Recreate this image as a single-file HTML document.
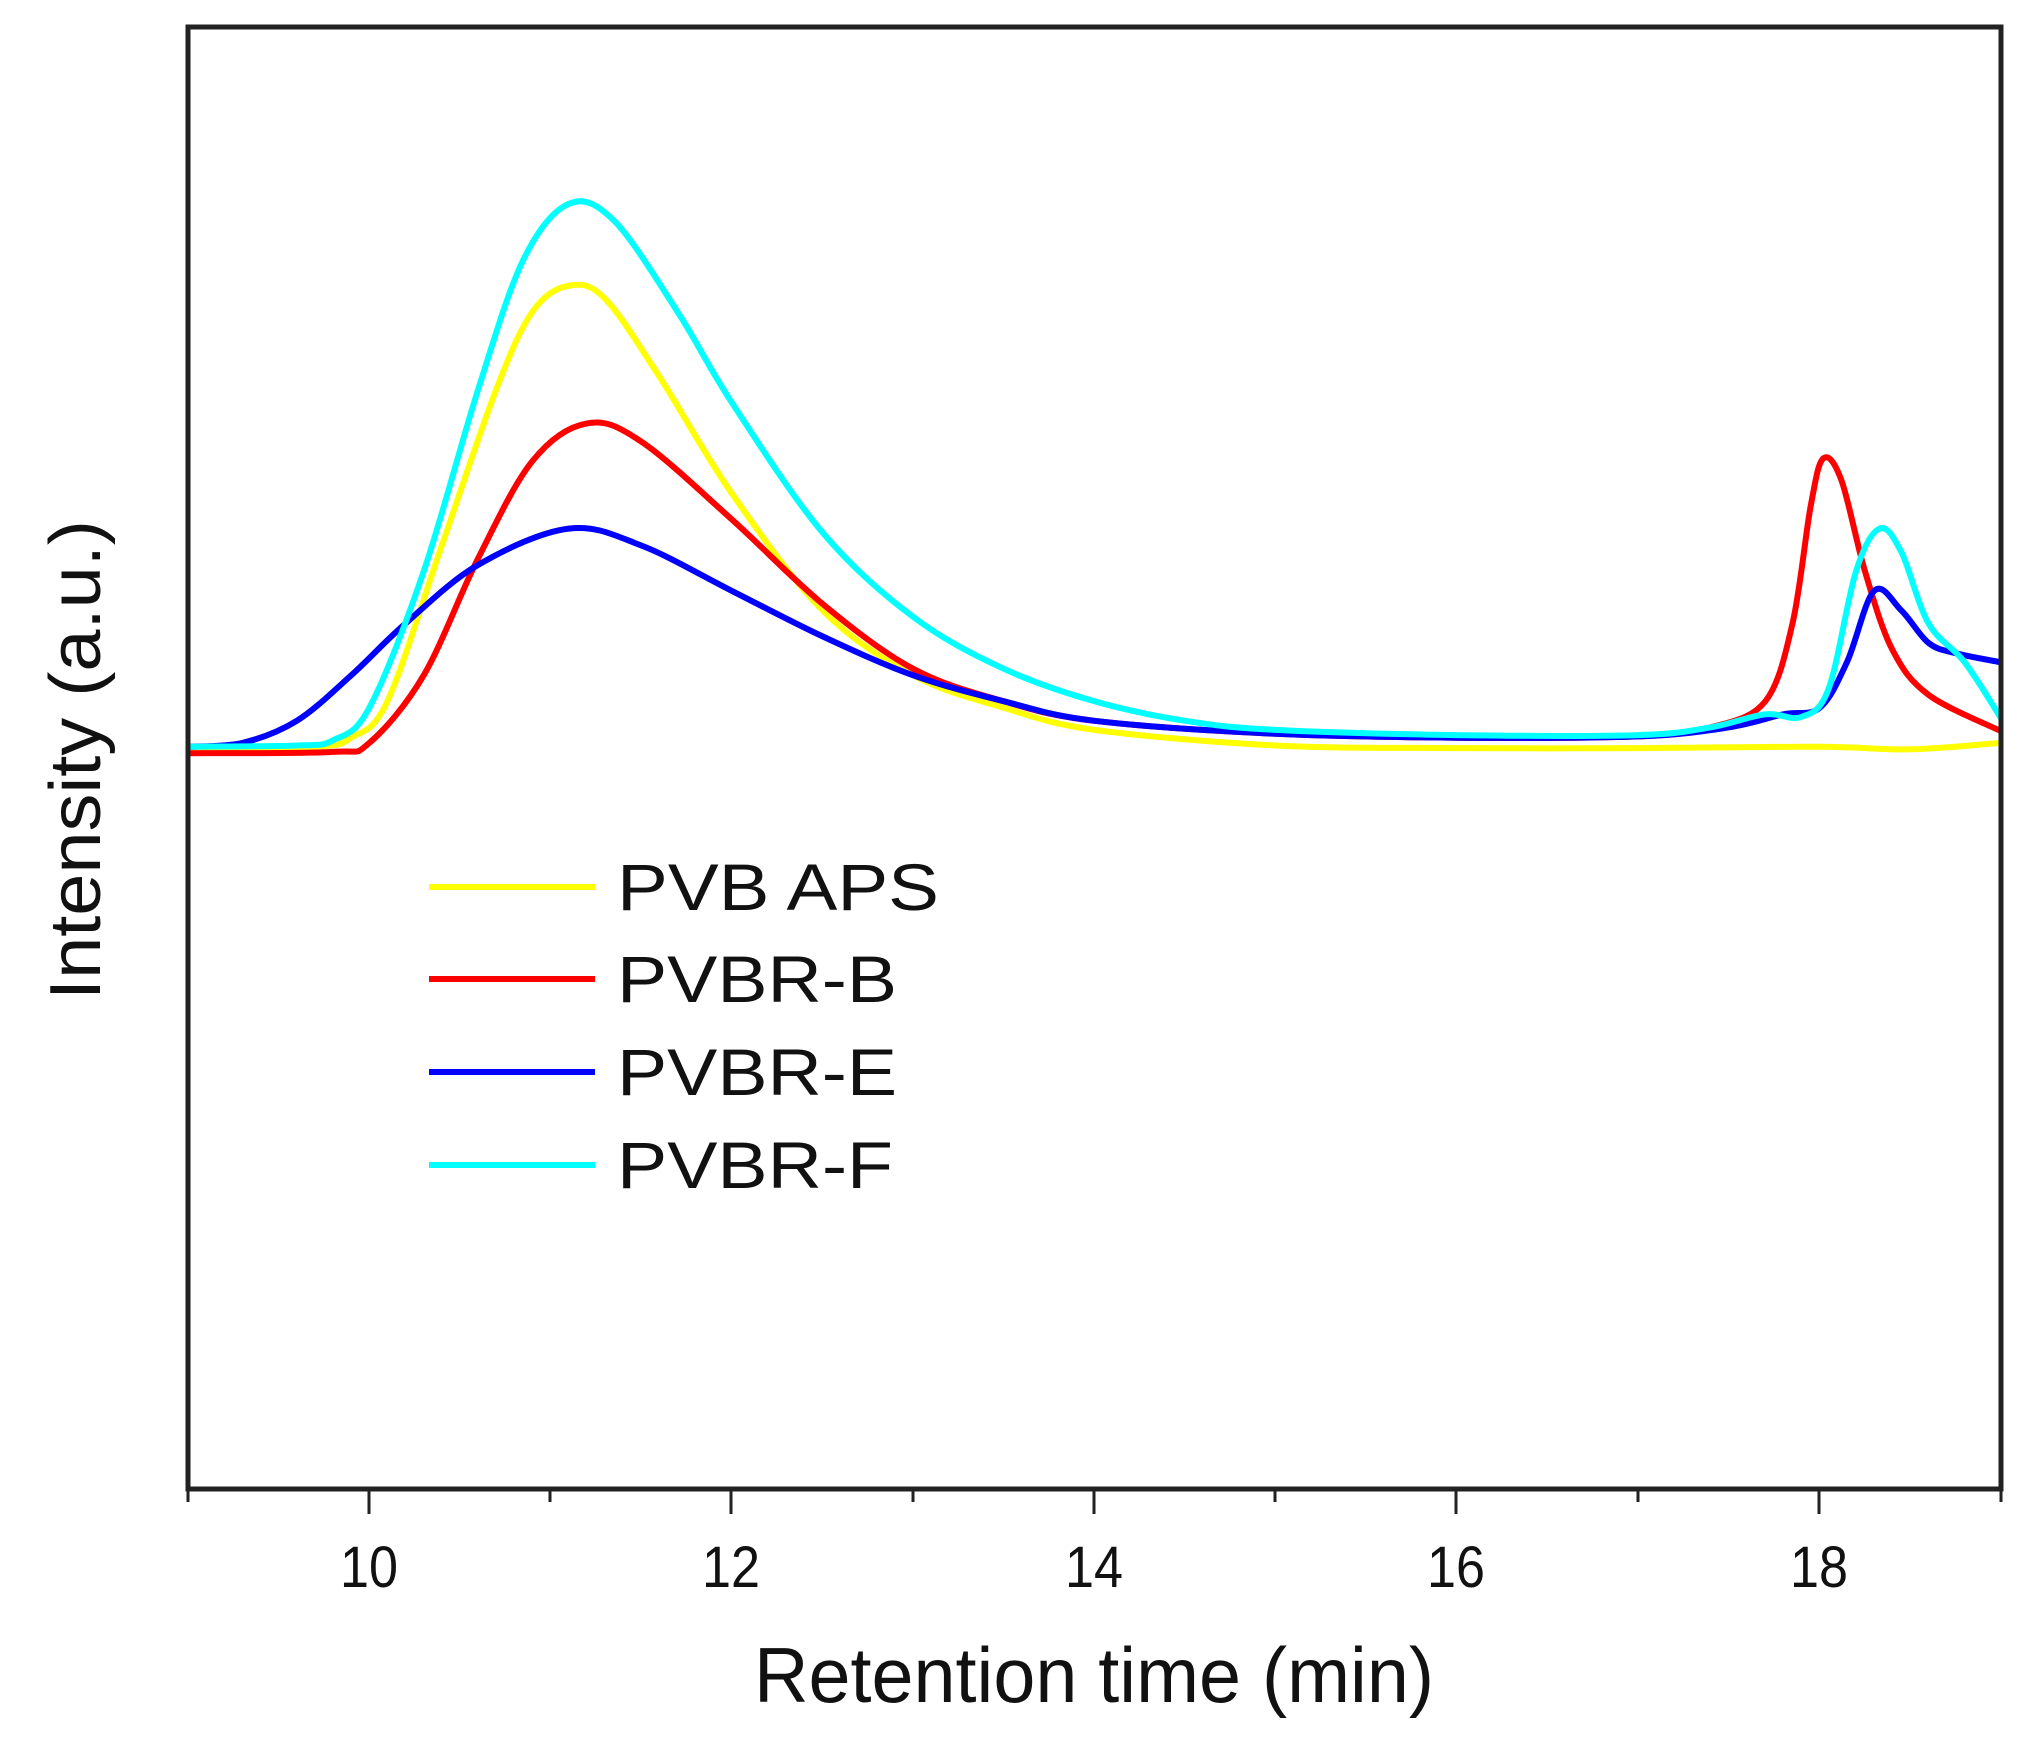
<!DOCTYPE html>
<html><head><meta charset="utf-8">
<style>
html,body{margin:0;padding:0;background:#fff;}
svg{display:block;}
text{font-family:"Liberation Sans",sans-serif;fill:#111;}
</style></head>
<body>
<svg id="s" width="2026" height="1739" viewBox="0 0 2026 1739" xmlns="http://www.w3.org/2000/svg">
<rect width="2026" height="1739" fill="#fff"/>
<g id="curves" fill="none" stroke-width="6" stroke-linejoin="round"></g>
<rect x="188" y="27" width="1813" height="1462" fill="none" stroke="#222" stroke-width="5"/>
<g stroke="#222" stroke-width="3">
<line x1="369" y1="1489" x2="369" y2="1514"/>
<line x1="731" y1="1489" x2="731" y2="1514"/>
<line x1="1094" y1="1489" x2="1094" y2="1514"/>
<line x1="1456" y1="1489" x2="1456" y2="1514"/>
<line x1="1819" y1="1489" x2="1819" y2="1514"/>
<line x1="188" y1="1489" x2="188" y2="1502"/>
<line x1="550" y1="1489" x2="550" y2="1502"/>
<line x1="913" y1="1489" x2="913" y2="1502"/>
<line x1="1275" y1="1489" x2="1275" y2="1502"/>
<line x1="1638" y1="1489" x2="1638" y2="1502"/>
<line x1="2001" y1="1489" x2="2001" y2="1502"/>
</g>
<g font-size="58" text-anchor="middle">
<text x="369" y="1587" textLength="58" lengthAdjust="spacingAndGlyphs">10</text>
<text x="731" y="1587" textLength="58" lengthAdjust="spacingAndGlyphs">12</text>
<text x="1094" y="1587" textLength="58" lengthAdjust="spacingAndGlyphs">14</text>
<text x="1456" y="1587" textLength="58" lengthAdjust="spacingAndGlyphs">16</text>
<text x="1819" y="1587" textLength="58" lengthAdjust="spacingAndGlyphs">18</text>
</g>
<text x="1094" y="1702" font-size="78" text-anchor="middle" textLength="680" lengthAdjust="spacingAndGlyphs">Retention time (min)</text>
<text transform="translate(100,760) rotate(-90)" font-size="72" text-anchor="middle" textLength="480" lengthAdjust="spacingAndGlyphs">Intensity (a.u.)</text>
<g stroke-width="6">
<line x1="429" y1="887" x2="595" y2="887" stroke="#ffff00"/>
<line x1="429" y1="979" x2="595" y2="979" stroke="#ff0000"/>
<line x1="429" y1="1072" x2="595" y2="1072" stroke="#0000ff"/>
<line x1="429" y1="1165" x2="595" y2="1165" stroke="#00ffff"/>
</g>
<g font-size="66">
<text x="617" y="910" textLength="322" lengthAdjust="spacingAndGlyphs">PVB APS</text>
<text x="617" y="1002" textLength="280" lengthAdjust="spacingAndGlyphs">PVBR-B</text>
<text x="617" y="1095" textLength="280" lengthAdjust="spacingAndGlyphs">PVBR-E</text>
<text x="617" y="1188" textLength="276" lengthAdjust="spacingAndGlyphs">PVBR-F</text>
</g>
</svg>
<script>
var series=[
["#ffff00",[[9,576],[9.7,575],[9.9,568],[10.1,540],[10.4,420],[10.7,300],[10.9,240],[11.1,220],[11.3,230],[11.6,290],[12,380],[12.5,470],[13,520],[13.5,545],[14,562],[15,574],[16,576],[17,576],[18,575],[18.5,577],[19,572]]],
["#ff0000",[[9,580],[9.8,579],[10,572],[10.3,520],[10.6,430],[10.9,355],[11.2,326],[11.5,340],[12,400],[12.5,465],[13,515],[13.5,540],[14,555],[15,565],[16,568],[17,567],[17.4,560],[17.7,540],[17.85,480],[17.95,390],[18.02,353],[18.12,370],[18.25,440],[18.4,500],[18.6,535],[19,563]]],
["#0000ff",[[9,575],[9.3,572],[9.6,555],[9.9,520],[10.2,480],[10.6,435],[11.1,407],[11.5,420],[12,455],[12.5,490],[13,520],[13.5,540],[14,555],[15,565],[16,568],[17,567],[17.5,560],[17.8,550],[18,545],[18.15,510],[18.3,455],[18.45,470],[18.6,495],[18.75,503],[19,510]]],
["#00ffff",[[9,575],[9.6,574],[9.8,570],[10,545],[10.3,440],[10.6,300],[10.85,200],[11.1,157],[11.35,170],[11.7,240],[12,310],[12.5,410],[13,475],[13.5,515],[14,540],[14.5,555],[15,562],[16,566],[17,566],[17.4,560],[17.7,550],[17.9,552],[18.05,530],[18.2,440],[18.33,407],[18.45,425],[18.6,480],[18.8,510],[19,553]]]
];
var g=document.getElementById('curves');
series.forEach(function(s){
  var p=s[1].map(function(q){return [188+(q[0]-9)*181.3, q[1]*1.2987];});
  var d='M'+p[0][0].toFixed(1)+' '+p[0][1].toFixed(1);
  for(var i=0;i<p.length-1;i++){
    var p0=p[i-1]||p[i],p1=p[i],p2=p[i+1],p3=p[i+2]||p[i+1];
    var c1=[p1[0]+(p2[0]-p0[0])/6,p1[1]+(p2[1]-p0[1])/6];
    var c2=[p2[0]-(p3[0]-p1[0])/6,p2[1]-(p3[1]-p1[1])/6];
    d+=' C'+c1[0].toFixed(1)+' '+c1[1].toFixed(1)+' '+c2[0].toFixed(1)+' '+c2[1].toFixed(1)+' '+p2[0].toFixed(1)+' '+p2[1].toFixed(1);
  }
  var e=document.createElementNS('http://www.w3.org/2000/svg','path');
  e.setAttribute('d',d);e.setAttribute('stroke',s[0]);
  g.appendChild(e);
});
</script>
</body></html>
